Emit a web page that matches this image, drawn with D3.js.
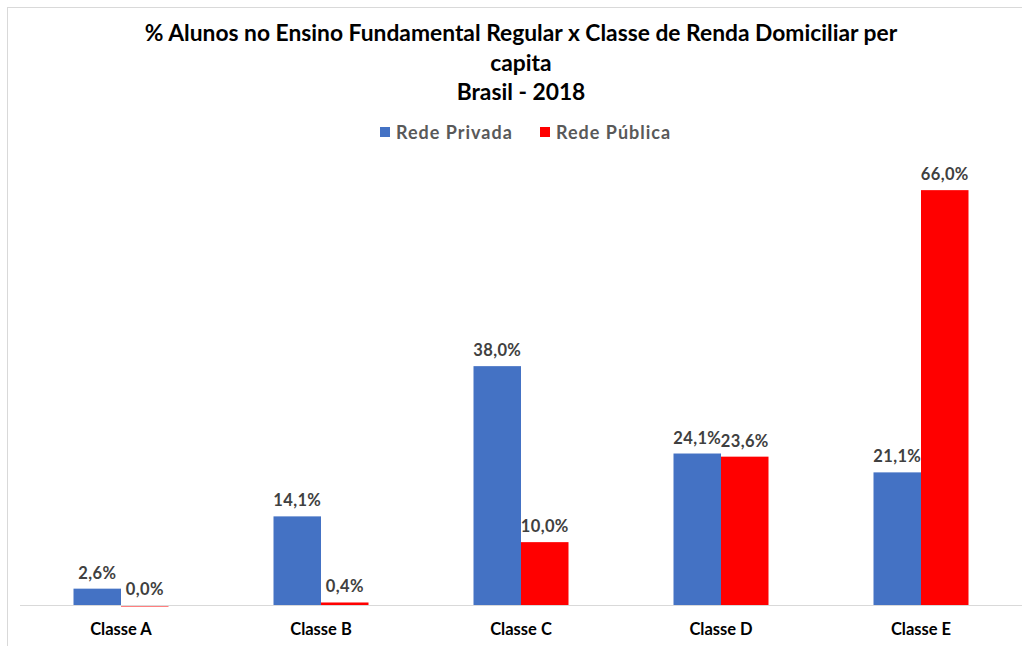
<!DOCTYPE html>
<html><head><meta charset="utf-8">
<script src="https://cdn.jsdelivr.net/npm/d3@7"></script>
<style>body{margin:0;background:#fff}svg{display:block}</style>
</head><body>
<svg id="c" width="1022" height="646"></svg>
<script>
const categories = ["Classe A","Classe B","Classe C","Classe D","Classe E"];
const seriesNames = ["Rede Privada","Rede Pública"];
const privada = [2.6, 14.1, 38.0, 24.1, 21.1];
const publica = [0.0, 0.4, 10.0, 23.6, 66.0];
const titleLines = ["% Alunos no Ensino Fundamental Regular x Classe de Renda Domiciliar per","capita","Brasil - 2018"];
const colors = ["#4472C4","#FF0000"];

const svg = d3.select("#c");
const font = "Lato, 'Liberation Sans', sans-serif";
svg.append("rect").attr("x",7.5).attr("y",7.5).attr("width",1030).attr("height",660)
  .attr("fill","#fff").attr("stroke","#d9d9d9").attr("stroke-width",1);

const x0 = d3.scaleBand().domain(categories).range([21,1021]).paddingInner(0.525).paddingOuter(0.2625);
const x1 = d3.scaleBand().domain(seriesNames).range([0,x0.bandwidth()]);
const y = d3.scaleLinear().domain([0,70]).range([605,165]);

const data = categories.map((c,i)=>({cat:c, vals:[privada[i],publica[i]]}));

const g = svg.append("g");
const groups = g.selectAll("g.cat").data(data).join("g").attr("transform",d=>`translate(${x0(d.cat)},0)`);
groups.selectAll("rect").data(d=>d.vals.map((v,j)=>({v,j}))).join("rect")
  .attr("x",d=>x1(seriesNames[d.j])).attr("width",x1.bandwidth())
  .attr("y",d=>y(d.v)).attr("height",d=>Math.max(y(0)-y(d.v), d.v===0?1.5:0))
  .attr("fill",d=>colors[d.j]);
groups.selectAll("text").data(d=>d.vals.map((v,j)=>({v,j}))).join("text")
  .attr("x",d=>x1(seriesNames[d.j])+x1.bandwidth()/2)
  .attr("y",d=>y(d.v)-10)
  .attr("text-anchor","middle").attr("font-family",font).attr("font-weight","bold")
  .attr("font-size",16.5).attr("letter-spacing",0.4).attr("fill","#404040")
  .text(d=>d.v.toFixed(1).replace(".",",")+"%");

// x axis
const xAxis = d3.axisBottom(x0).tickSize(0).tickPadding(18);
const ax = svg.append("g").attr("transform","translate(0,605)").call(xAxis);
ax.select(".domain").attr("stroke","#d9d9d9").attr("d","M20,0.5H1022");
ax.selectAll("text").attr("font-family",font).attr("font-weight","bold").attr("font-size",16.5).attr("fill","#000");

// title
const t = svg.append("text").attr("text-anchor","middle").attr("font-family",font)
  .attr("font-weight","bold").attr("font-size",22.8).attr("fill","#000");
titleLines.forEach((l,i)=>t.append("tspan").attr("x",521).attr("y",41+i*29.5).text(l));

// legend
const leg = svg.append("g");
const legX = [380,540];
seriesNames.forEach((s,i)=>{
  leg.append("rect").attr("x",legX[i]).attr("y",127).attr("width",10).attr("height",10).attr("fill",colors[i]);
  leg.append("text").attr("x",legX[i]+16).attr("y",139).attr("font-family",font).attr("font-weight","bold")
    .attr("font-size",18).attr("letter-spacing",1).attr("fill","#595959").text(s);
});
</script>
</body></html>
